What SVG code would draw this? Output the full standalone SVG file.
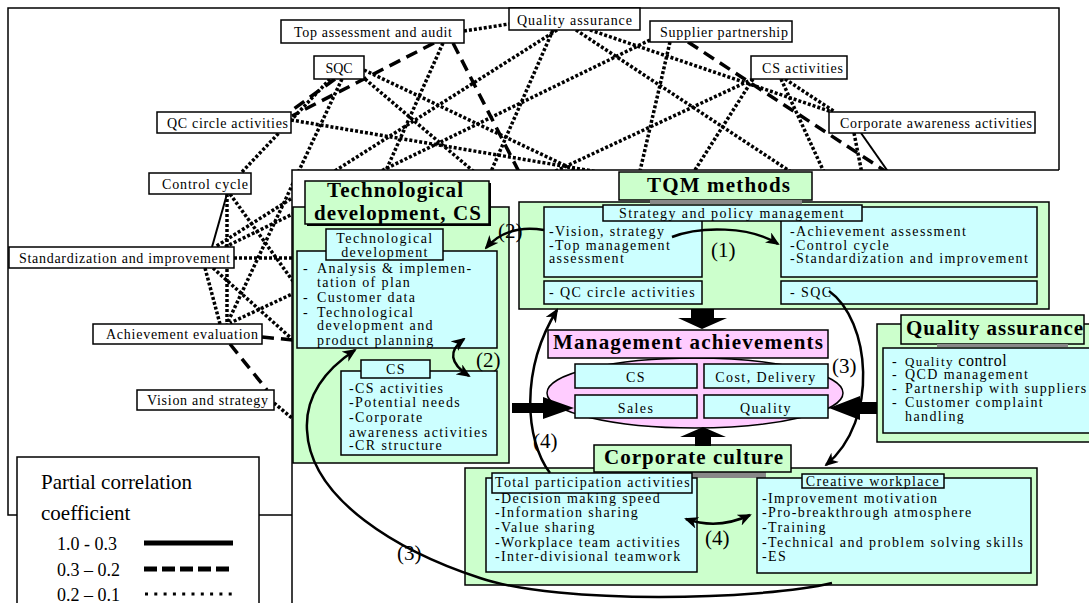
<svg xmlns="http://www.w3.org/2000/svg" width="1089" height="603" viewBox="0 0 1089 603">
<style>
.nl{fill:none;stroke:#000}
.dot{stroke-width:3.5;stroke-dasharray:3 2}
.dash{stroke-width:3.5;stroke-dasharray:12 7}
.sol{stroke-width:2}
.nbox{fill:#fff;stroke:#000;stroke-width:1.5}
.nt{font-family:"Liberation Serif",serif;font-size:14px;fill:#000}
.g{fill:#ccffcc;stroke:#000;stroke-width:1.5}
.c{fill:#ccffff;stroke:#000;stroke-width:1.5}
.p{fill:#ffccff;stroke:#000;stroke-width:1.5}
.t{font-family:"Liberation Serif",serif;font-size:14px;letter-spacing:1.4px;fill:#000}
.b{font-family:"Liberation Serif",serif;font-weight:bold;font-size:21px;fill:#000}
.num{font-family:"Liberation Serif",serif;font-size:21px;fill:#000}
.lg{font-family:"Liberation Serif",serif;fill:#000}
.cv{fill:none;stroke:#000;stroke-width:2.5}
.blk{fill:#000}
.gray{fill:#888}
</style>
<defs>
<marker id="ah" markerUnits="userSpaceOnUse" markerWidth="14" markerHeight="12" viewBox="0 0 14 12" refX="12" refY="6" orient="auto-start-reverse"><path d="M0,0 L14,6 L0,12 L4,6 z" fill="#000"/></marker>
</defs>

<rect x="0" y="0" width="1089" height="603" fill="#fff"/>
<rect id="network-panel" x="8" y="8" width="1051" height="507" fill="#fff" stroke="#000" stroke-width="1.5"/>

<g id="network-edges">
<path class="nl dot" d="M464,31 L509,24"/>
<path class="nl dash" d="M434,43 L292,116"/>
<path class="nl dash" d="M335,79 L291,111"/>
<path class="nl dot" d="M330,79 L241,173"/>
<path class="nl dot" d="M342,79 L227,324"/>
<path class="nl dot" d="M364,70 L960,353"/>
<path class="nl dot" d="M365,79 L560,245"/>
<path class="nl dot" d="M291,120 L1000,240"/>
<path class="nl dot" d="M443,43 L328,300"/>
<path class="nl dash" d="M453,43 L600,330"/>
<path class="nl dot" d="M557,30 L215,247"/>
<path class="nl dot" d="M553,30 L450,265"/>
<path class="nl dot" d="M576,30 L950,277"/>
<path class="nl dot" d="M590,30 L832,112"/>
<path class="nl dot" d="M650,40 L225,247"/>
<path class="nl dot" d="M670,42 L603,330"/>
<path class="nl dash" d="M688,42 L960,220"/>
<path class="nl dot" d="M753,79 L230,323"/>
<path class="nl dot" d="M753,79 L593,330"/>
<path class="nl dot" d="M781,79 L860,250"/>
<path class="nl dot" d="M785,79 L835,112"/>
<path class="nl dot" d="M854,133 L875,240"/>
<path class="nl sol" d="M861,133 L950,260"/>
<path class="nl sol" d="M227,194 L212,247"/>
<path class="nl dot" d="M227,194 L227,324"/>
<path class="nl dot" d="M230,194 L350,360"/>
<path class="nl dot" d="M234,258 L600,258"/>
<path class="nl dot" d="M205,268 L220,324"/>
<path class="nl dot" d="M213,268 L400,436"/>
<path class="nl dash" d="M262,337 L500,360"/>
<path class="nl dash" d="M230,344 L267,390"/>
<path class="nl dot" d="M274,403 L450,550"/>
</g>

<g id="n-top-assessment"><rect class="nbox" x="281" y="20" width="183" height="23"/><text class="nt" x="294" y="37" textLength="158">Top assessment and audit</text></g>
<g id="n-sqc"><rect class="nbox" x="314" y="56" width="50" height="23"/><text class="nt" x="339" y="73" font-size="15" text-anchor="middle">SQC</text></g>
<g id="n-qc-circle"><rect class="nbox" x="157" y="112" width="134" height="21"/><text class="nt" x="167" y="128" textLength="121">QC circle activities</text></g>
<g id="n-quality-assurance"><rect class="nbox" x="509" y="8" width="131" height="22"/><text class="nt" x="517" y="25" textLength="115">Quality assurance</text></g>
<g id="n-supplier"><rect class="nbox" x="650" y="21" width="142" height="21"/><text class="nt" x="660" y="37" textLength="128">Supplier partnership</text></g>
<g id="n-cs-activities"><rect class="nbox" x="751" y="56" width="96" height="23"/><text class="nt" x="762" y="73" textLength="81">CS activities</text></g>
<g id="n-corporate-awareness"><rect class="nbox" x="829" y="112" width="206" height="21"/><text class="nt" x="840" y="128" textLength="192">Corporate awareness activities</text></g>
<g id="n-control-cycle"><rect class="nbox" x="149" y="173" width="102" height="21"/><text class="nt" x="162" y="189" textLength="86">Control cycle</text></g>
<g id="n-standardization"><rect class="nbox" x="9" y="247" width="225" height="21"/><text class="nt" x="19" y="263" textLength="211">Standardization and improvement</text></g>
<g id="n-achievement"><rect class="nbox" x="93" y="324" width="169" height="20"/><text class="nt" x="106" y="339" textLength="152">Achievement evaluation</text></g>
<g id="n-vision"><rect class="nbox" x="137" y="390" width="137" height="20"/><text class="nt" x="147" y="405" textLength="121">Vision and strategy</text></g>

<g id="overlay">
<rect x="292" y="170" width="797" height="433" fill="#fff"/>
<path d="M292,603 V170 H1059" fill="none" stroke="#000" stroke-width="1.5"/>
</g>

<g id="legend">
<rect x="17" y="457" width="242" height="160" fill="#fff" stroke="#000" stroke-width="1.5"/>
<text class="lg" x="41" y="489" font-size="21">Partial correlation</text>
<text class="lg" x="41" y="520" font-size="21">coefficient</text>
<text class="lg" x="57" y="550" font-size="18">1.0 - 0.3</text>
<text class="lg" x="57" y="576" font-size="18">0.3 – 0.2</text>
<text class="lg" x="57" y="601" font-size="18">0.2 – 0.1</text>
<path d="M144,543 H233" stroke="#000" stroke-width="5"/>
<path d="M144,569 H233" stroke="#000" stroke-width="5" stroke-dasharray="13 5"/>
<path d="M145,594 H233" stroke="#000" stroke-width="3" stroke-dasharray="3 6.3"/>
</g>

<g id="tech-dev-cs">
<rect class="g" x="293" y="207" width="216" height="256"/>
<rect class="blk" x="307" y="183" width="184" height="43"/>
<rect class="g" x="305" y="181" width="184" height="43"/>
<text class="b" x="327" y="197" font-size="16" textLength="136">Technological</text>
<text class="b" x="314" y="220" font-size="16" textLength="167">development, CS</text>
<rect class="c" x="297" y="251" width="200" height="97"/>
<rect class="c" x="326" y="229" width="117" height="31"/>
<text class="t" x="385" y="243" font-size="13.5" text-anchor="middle">Technological</text>
<text class="t" x="385" y="257" font-size="13.5" text-anchor="middle">development</text>
<text class="t" x="303" y="273">-</text><text class="t" x="317" y="273">Analysis &amp; implemen-</text>
<text class="t" x="317" y="287">tation of plan</text>
<text class="t" x="303" y="302">-</text><text class="t" x="317" y="302">Customer data</text>
<text class="t" x="303" y="317">-</text><text class="t" x="317" y="317">Technological</text>
<text class="t" x="317" y="330">development and</text>
<text class="t" x="317" y="345">product planning</text>
<rect class="c" x="341" y="371" width="156" height="84"/>
<rect class="c" x="361" y="360" width="69" height="18"/>
<text class="t" x="396" y="374" text-anchor="middle">CS</text>
<text class="t" x="349" y="393">-CS activities</text>
<text class="t" x="349" y="407">-Potential needs</text>
<text class="t" x="349" y="422">-Corporate</text>
<text class="t" x="349" y="437">awareness activities</text>
<text class="t" x="349" y="450">-CR structure</text>
</g>

<g id="tqm-methods">
<rect class="g" x="519" y="202" width="530" height="107"/>
<rect class="g" x="619" y="172" width="193" height="28"/>
<rect class="gray" x="650" y="200" width="152" height="4"/>
<text class="b" x="647" y="192" textLength="143">TQM methods</text>
<rect class="c" x="544" y="207" width="158" height="70"/>
<rect class="c" x="781" y="207" width="256" height="70"/>
<rect class="c" x="603" y="205" width="259" height="16"/>
<text class="t" x="732" y="218" text-anchor="middle">Strategy and policy management</text>
<text class="t" x="549" y="236">-Vision, strategy</text>
<text class="t" x="549" y="250">-Top management</text>
<text class="t" x="549" y="263">assessment</text>
<text class="t" x="790" y="236">-Achievement assessment</text>
<text class="t" x="790" y="250">-Control cycle</text>
<text class="t" x="790" y="263">-Standardization and improvement</text>
<rect class="c" x="544" y="281" width="158" height="23"/>
<text class="t" x="549" y="297">- QC circle activities</text>
<rect class="c" x="781" y="281" width="256" height="23"/>
<text class="t" x="790" y="297">- SQC</text>
<text class="num" x="711" y="257">(1)</text>
</g>

<g id="management-achievements">
<ellipse class="p" cx="695" cy="393" rx="148" ry="35"/>
<rect class="p" x="548" y="330" width="280" height="28"/>
<text class="b" x="553" y="349" font-size="20" textLength="270">Management achievements</text>
<rect class="c" x="575" y="364" width="122" height="24"/>
<rect class="c" x="704" y="364" width="124" height="24"/>
<rect class="c" x="575" y="395" width="122" height="23"/>
<rect class="c" x="704" y="395" width="124" height="23"/>
<text class="t" x="636" y="382" text-anchor="middle">CS</text>
<text class="t" x="766" y="382" text-anchor="middle">Cost, Delivery</text>
<text class="t" x="636" y="413" text-anchor="middle">Sales</text>
<text class="t" x="766" y="413" text-anchor="middle">Quality</text>
</g>

<g id="quality-assurance">
<rect class="g" x="877" y="324" width="214" height="118"/>
<rect class="g" x="901" y="315" width="183" height="29"/>
<rect class="gray" x="937" y="344" width="131" height="3"/>
<text class="b" x="906" y="335" font-size="20" textLength="177">Quality assurance</text>
<rect class="c" x="883" y="348" width="210" height="85"/>
<text class="t" x="892" y="366">-</text>
<text class="t" x="905" y="366"><tspan font-size="13">Quality</tspan><tspan font-size="16" letter-spacing="0.5"> control</tspan></text>
<text class="t" x="892" y="379">-</text><text class="t" x="905" y="379">QCD management</text>
<text class="t" x="892" y="393">-</text><text class="t" x="905" y="393">Partnership with suppliers</text>
<text class="t" x="892" y="407">-</text><text class="t" x="905" y="407">Customer complaint</text>
<text class="t" x="905" y="421">handling</text>
</g>

<g id="corporate-culture">
<rect class="g" x="465" y="468" width="572" height="117"/>
<rect class="gray" x="620" y="472" width="146" height="6"/>
<rect class="g" x="594" y="445" width="197" height="27"/>
<text class="b" x="604" y="464" textLength="179">Corporate culture</text>
<rect class="c" x="486" y="478" width="211" height="94"/>
<rect class="c" x="492" y="473" width="200" height="20"/>
<text class="t" x="495" y="487" textLength="196">Total participation activities</text>
<text class="t" x="495" y="503">-Decision making speed</text>
<text class="t" x="495" y="517">-Information sharing</text>
<text class="t" x="495" y="532">-Value sharing</text>
<text class="t" x="495" y="547">-Workplace team activities</text>
<text class="t" x="495" y="561">-Inter-divisional teamwork</text>
<rect class="c" x="757" y="478" width="274" height="95"/>
<rect class="c" x="802" y="474" width="142" height="14"/>
<text class="t" x="873" y="486" text-anchor="middle">Creative workplace</text>
<text class="t" x="762" y="503">-Improvement motivation</text>
<text class="t" x="762" y="517">-Pro-breakthrough atmosphere</text>
<text class="t" x="762" y="532">-Training</text>
<text class="t" x="762" y="547">-Technical and problem solving skills</text>
<text class="t" x="762" y="561">-ES</text>
<text class="num" x="705" y="545">(4)</text>
</g>

<g id="connectors">
<polygon class="blk" points="691,309 714,309 714,318 727,318 702,329 678,318 691,318"/>
<polygon class="blk" points="512,403 543,403 543,397 574,408 543,419 543,413 512,413"/>
<polygon class="blk" points="877,402 860,402 860,396 829,408 860,420 860,414 877,414"/>
<polygon class="blk" points="695,446 711,446 711,437 726,437 703,427 680,437 695,437"/>
<path class="cv" d="M672,237 C700,226 750,226 778,244" marker-end="url(#ah)"/>
<path class="cv" d="M544,230 C520,226 500,232 486,248" marker-end="url(#ah)"/>
<path class="cv" d="M464,339 Q440,357 469,376" marker-start="url(#ah)" marker-end="url(#ah)"/>
<path class="cv" d="M829,291 C870,320 880,420 826,465" marker-end="url(#ah)"/>
<path class="cv" d="M832,583 C760,600 560,605 480,578 C400,552 310,500 307,430 C305,395 325,370 355,350" marker-end="url(#ah)"/>
<path class="cv" d="M550,473 C525,440 520,370 557,310" marker-end="url(#ah)"/>
<path class="cv" d="M686,519 Q718,530 750,515" marker-start="url(#ah)" marker-end="url(#ah)"/>
<text class="num" x="498" y="238">(2)</text>
<text class="num" x="476" y="367">(2)</text>
<text class="num" x="832" y="373">(3)</text>
<text class="num" x="397" y="560">(3)</text>
<text class="num" x="533" y="448">(4)</text>
</g>
</svg>
